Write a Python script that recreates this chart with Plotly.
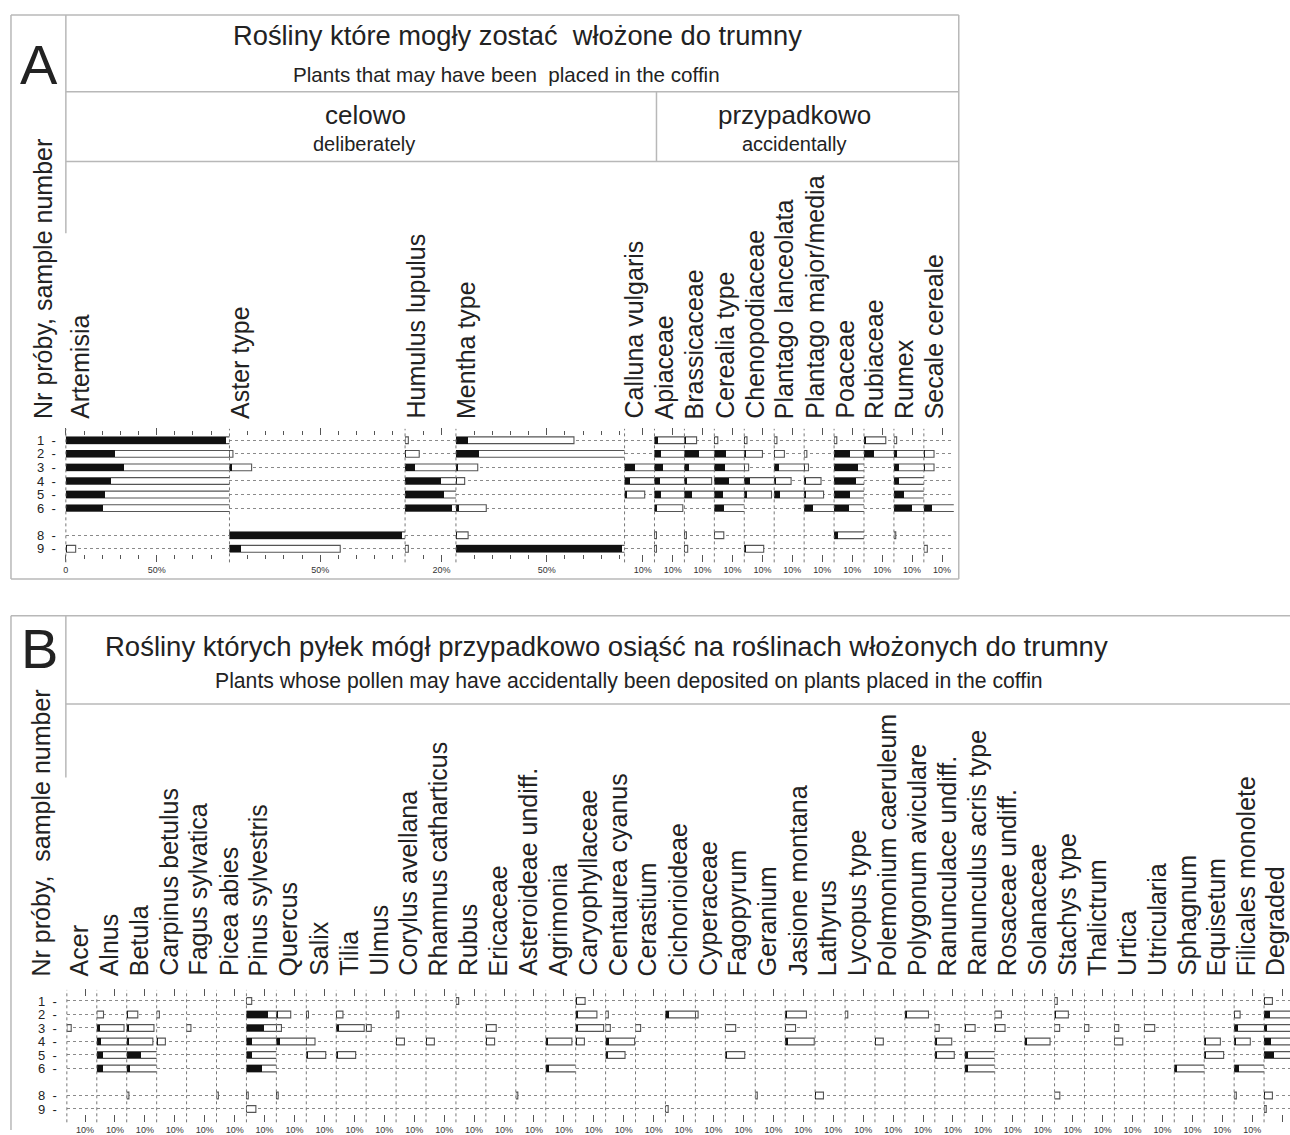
import plotly.graph_objects as go

W, H = 1290, 1135
FONT = "Liberation Sans, Arial, sans-serif"

# ---------------- data ----------------
samples = [1, 2, 3, 4, 5, 6, 8, 9]
sample_text = ["1", "2", "3", "4", "5", "6", "8", "9"]

a_taxa = ["Artemisia", "Aster type", "Humulus lupulus", "Mentha type", "Calluna vulgaris",
          "Apiaceae", "Brassicaceae", "Cerealia type", "Chenopodiaceae", "Plantago lanceolata",
          "Plantago major/media", "Poaceae", "Rubiaceae", "Rumex", "Secale cereale"]

# pollen percentages per sample (black bars); white bars = x10 exaggeration
a_row1 = [88.0, 0, 0.18, 6.5, 0, 1.9, 0.67, 0.19, 0.15, 0.15, 0, 0.15, 1.2, 0.15, 0]
a_row2 = [27.0, 0.19, 0.78, 12.6, 0, 3.7, 8.0, 6.5, 1.0, 0.56, 0.15, 8.9, 5.6, 1.9, 0.56]
a_row3 = [32.0, 1.22, 5.3, 1.2, 5.6, 4.6, 2.4, 5.6, 0.24, 2.8, 0.24, 13.0, 0, 2.8, 0.56]
a_row4 = [24.6, 0, 19.8, 0.48, 3.2, 2.8, 1.5, 8.0, 3.3, 0.93, 0.93, 12.0, 0, 2.8, 0]
a_row5 = [21.5, 0, 21.7, 0, 1.11, 3.7, 4.3, 4.6, 1.5, 3.3, 1.07, 8.9, 0, 5.6, 0]
a_row6 = [20.4, 0, 25.7, 1.67, 0, 1.56, 0, 5.2, 0, 0, 4.8, 8.3, 0, 9.8, 4.6]
a_row8 = [0, 95.0, 0, 0.67, 0, 0.11, 0.11, 0.52, 0, 0, 0, 1.9, 0, 0.1, 0]
a_row9 = [0.54, 6.1, 0.18, 91.3, 0, 0.11, 0.18, 0, 1.07, 0, 0, 0, 0, 0, 0.19]

a_major = [[0, 50], [50], [20], [50]] + [[10]] * 11
a_major_text = [["0", "50%"], ["50%"], ["20%"], ["50%"]] + [["10%"]] * 11
a_minor = [[10, 20, 30, 40, 60, 70, 80], [10, 20, 30, 40, 60, 70, 80, 90], [10],
           [10, 20, 30, 40, 60, 70, 80, 90]] + [[]] * 11

b_taxa = ["Acer", "Alnus", "Betula", "Carpinus betulus", "Fagus sylvatica", "Picea abies",
          "Pinus sylvestris", "Quercus", "Salix", "Tilia", "Ulmus", "Corylus avellana",
          "Rhamnus catharticus", "Rubus", "Ericaceae", "Asteroideae undiff.", "Agrimonia",
          "Caryophyllaceae", "Centaurea cyanus", "Cerastium", "Cichorioideae", "Cyperaceae",
          "Fagopyrum", "Geranium", "Jasione montana", "Lathyrus", "Lycopus type",
          "Polemonium caeruleum", "Polygonum aviculare", "Ranunculace undiff.",
          "Ranunculus acris type", "Rosaceae undiff.", "Solanaceae", "Stachys type",
          "Thalictrum", "Urtica", "Utricularia", "Sphagnum", "Equisetum",
          "Filicales monolete", "Degraded"]

b_row1 = [0, 0, 0, 0, 0, 0, 0.29, 0, 0, 0,
          0, 0, 0, 0.15, 0, 0, 0, 0.52, 0, 0,
          0, 0, 0, 0, 0, 0, 0, 0, 0, 0,
          0, 0, 0, 0.15, 0, 0, 0, 0, 0, 0,
          0.46]
b_row2 = [0, 0.37, 0.61, 0.15, 0, 0, 11.7, 0.79, 0.12, 0.37,
          0, 0.15, 0, 0, 0, 0, 0, 1.17, 0.15, 0,
          1.8, 0.15, 0, 0, 1.17, 0, 0.15, 0, 1.3, 0,
          0, 0.37, 0, 0.76, 0, 0, 0, 0, 0, 0.33,
          3.3]
b_row3 = [0.24, 1.5, 1.5, 0, 0.24, 0, 9.4, 0.28, 0, 1.54,
          0.28, 0, 0, 0, 0.57, 0, 0, 1.54, 0.26, 0.28,
          0, 0, 0.57, 0, 0.57, 0, 0, 0, 0, 0.24,
          0.57, 0.57, 0, 0.28, 0.24, 0.24, 0.57, 0, 0, 2.0,
          1.8]
b_row4 = [0, 2.4, 1.44, 0.48, 0, 0, 2.8, 1.8, 0.48, 0,
          0, 0.46, 0.46, 0, 0.48, 0, 1.44, 0.48, 1.6, 0,
          0, 0, 0, 0, 1.6, 0, 0, 0.46, 0, 0.93,
          0, 0, 1.4, 0, 0, 0.46, 0, 0, 0.89, 0.89,
          3.7]
b_row5 = [0, 3.3, 8.0, 0, 0, 0, 3.3, 0, 1.07, 1.07,
          0, 0, 0, 0, 0, 0, 0, 0, 1.07, 0,
          0, 0, 1.07, 0, 0, 0, 0, 0, 0, 1.07,
          1.7, 0, 0, 0, 0, 0, 0, 0, 1.07, 0,
          5.2]
b_row6 = [0, 3.3, 1.8, 0, 0, 0, 8.3, 0, 0, 0,
          0, 0, 0, 0, 0, 0, 1.7, 0, 0, 0,
          0, 0, 0, 0, 0, 0, 0, 0, 0, 0,
          1.7, 0, 0, 0, 0, 0, 0, 1.7, 0, 2.9,
          0]
b_row8 = [0, 0, 0.12, 0, 0, 0.1, 0.1, 0.1, 0, 0,
          0, 0, 0, 0, 0, 0.11, 0, 0, 0, 0,
          0, 0, 0, 0.11, 0, 0.46, 0, 0, 0, 0,
          0, 0, 0, 0.29, 0, 0, 0, 0, 0, 0.12,
          0.46]
b_row9 = [0, 0, 0, 0, 0, 0, 0.52, 0, 0, 0,
          0, 0, 0, 0, 0, 0, 0, 0, 0, 0,
          0.15, 0, 0, 0, 0, 0, 0, 0, 0, 0,
          0, 0, 0, 0, 0, 0, 0, 0, 0, 0,
          0.12]

EXAG = 10

# ---------------- layout geometry (pixels) ----------------
PX_PER_PCT = 1.82
a_col_px = [164, 176, 51, 169] + [30] * 11
A_X0 = 63
a_label_off = [14] + [10] * 14
b_col_px = [30] * 40 + [26]
B_X0 = 64
b_label_off = [12] * 40 + [11]

A_TOP, A_BOT = 436, 555
A_RANGE = [9.39, 0.68]
B_TOP, B_BOT = 1001, 1119
B_RANGE = [9.38, 0.70]


def px(x):
    return x / W


def py(y):
    return 1 - y / H


a_rows = [a_row1, a_row2, a_row3, a_row4, a_row5, a_row6, a_row8, a_row9]
b_rows = [b_row1, b_row2, b_row3, b_row4, b_row5, b_row6, b_row8, b_row9]

fig = go.Figure()
layout_axes = {}
shapes = []
annotations = []

LINE = "#555555"
GRID = "#8a8a8a"
BOX = "#b8b8b8"
LABEL_SIZE = 25


def add_panel(taxa, rows, col_px, x0, label_off, ax_start, yname, ytop, ybot, yrange,
              majors, major_texts, minors, label_bottom):
    pos = x0
    for k, name in enumerate(taxa):
        idx = ax_start + k
        axname = "x" if idx == 1 else f"x{idx}"
        lname = "xaxis" if idx == 1 else f"xaxis{idx}"
        vals = [r[k] for r in rows]
        w = col_px[k]
        rng = w / PX_PER_PCT
        fig.add_trace(go.Bar(
            y=samples, x=[v * EXAG if v > 0 else None for v in vals], orientation="h",
            width=0.5, xaxis=axname, yaxis=yname,
            marker=dict(color="white", line=dict(color=LINE, width=1.1)),
            hoverinfo="skip", showlegend=False))
        fig.add_trace(go.Bar(
            y=samples, x=[v if v > 0 else None for v in vals], orientation="h",
            width=0.5, xaxis=axname, yaxis=yname,
            marker=dict(color="#111111", line=dict(width=0)),
            hoverinfo="skip", showlegend=False))
        cfg = dict(domain=[px(pos), min(px(pos + w), 1.0)], range=[0, rng], anchor=yname,
                   showgrid=False, zeroline=False, showline=False, fixedrange=True,
                   tickmode="array", tickvals=majors[k], ticktext=major_texts[k],
                   ticks="outside", ticklen=7, tickwidth=1, tickcolor=LINE, mirror="ticks",
                   tickfont=dict(size=9, color="#333", family=FONT))
        if minors[k]:
            cfg["minor"] = dict(tickmode="array", tickvals=minors[k], ticks="outside",
                                ticklen=4, tickwidth=1, tickcolor=LINE, showgrid=False)
        layout_axes[lname] = cfg
        # column separator
        yref = "y domain" if yname == "y" else f"{yname} domain"
        shapes.append(dict(type="line", xref=f"{axname} domain", yref=yref,
                           x0=0, x1=0, y0=-0.07, y1=1.06,
                           line=dict(color="#777", width=1, dash="dot")))
        # taxon label
        annotations.append(dict(text=name, textangle=-90, xref="paper", yref="paper",
                                x=px(pos + label_off[k]), y=py(label_bottom),
                                xanchor="center", yanchor="bottom", showarrow=False,
                                font=dict(size=LABEL_SIZE, color="#222", family=FONT)))
        pos += w
    ylname = "yaxis" if yname == "y" else f"yaxis{yname[1:]}"
    layout_axes[ylname] = dict(
        domain=[py(ybot), py(ytop)], range=yrange, anchor="x" if ax_start == 1 else f"x{ax_start}",
        tickmode="array", tickvals=samples, ticktext=[f"{s}\u00a0\u00a0-" for s in sample_text],
        ticks="", showline=False, zeroline=False, fixedrange=True,
        showgrid=True, gridcolor=GRID, griddash="dot", gridwidth=1,
        tickfont=dict(size=13, color="#222", family=FONT), ticklabelstandoff=9)


add_panel(a_taxa, a_rows, a_col_px, A_X0, a_label_off, 1, "y", A_TOP, A_BOT, A_RANGE,
          a_major, a_major_text, a_minor, 421)
n_a = len(a_taxa)
add_panel(b_taxa, b_rows, b_col_px, B_X0, b_label_off, n_a + 1, "y2", B_TOP, B_BOT, B_RANGE,
          [[10]] * len(b_taxa), [["10%"]] * len(b_taxa), [[]] * len(b_taxa), 982)


def hline(y, xa, xb, color=BOX, width=1.5):
    shapes.append(dict(type="line", xref="paper", yref="paper", x0=px(xa), x1=px(xb),
                       y0=py(y), y1=py(y), line=dict(color=color, width=width)))


def vline(x, ya, yb, color=BOX, width=1.5):
    shapes.append(dict(type="line", xref="paper", yref="paper", x0=px(x), x1=px(x),
                       y0=py(ya), y1=py(yb), line=dict(color=color, width=width)))


# panel A frame
hline(12, 8, 958)
hline(580, 8, 958)
vline(8, 12, 580)
vline(958, 12, 580)
vline(63, 12, 232)
hline(89.5, 63, 958)
hline(159.5, 63, 958)
vline(655, 89.5, 159.5)
# panel B frame
hline(617, 8, 1290)
vline(8, 617, 1135)
vline(63, 617, 780)
hline(706, 63, 1290)


def text(t, x, y, size, angle=0, xanchor="center", yanchor="middle"):
    annotations.append(dict(text=t, x=px(x), y=py(y), xref="paper", yref="paper",
                            textangle=angle, xanchor=xanchor, yanchor=yanchor,
                            showarrow=False, font=dict(size=size, color="#222", family=FONT)))


text("A", 36, 62, 56)
text("Rośliny które mogły zostać\u00a0 włożone do trumny", 516, 33, 27.3)
text("Plants that may have been\u00a0 placed in the coffin", 505, 72, 20.6)
text("celowo", 363, 113, 26)
text("deliberately", 362, 142, 20)
text("przypadkowo", 793, 113, 26)
text("accidentally", 793, 142, 20)
text("Nr próby, sample number", 40, 421, LABEL_SIZE, angle=-90, yanchor="bottom")

text("B", 37, 650, 56)
text("Rośliny których pyłek mógł przypadkowo osiąść na roślinach włożonych do trumny", 605, 648, 27.5)
text("Plants whose pollen may have accidentally been deposited on plants placed in the coffin", 627, 683, 21.2)
text("Nr próby,\u00a0 sample number", 38, 982, LABEL_SIZE, angle=-90, yanchor="bottom")

fig.update_layout(
    width=W, height=H, margin=dict(l=0, r=0, t=0, b=0),
    paper_bgcolor="white", plot_bgcolor="white",
    barmode="overlay", bargap=0, showlegend=False,
    font=dict(family=FONT, color="#222"),
    shapes=shapes, annotations=annotations,
    **layout_axes)

fig.write_html("out.html", config={"displayModeBar": False, "staticPlot": True},
               post_script="document.body.style.margin='0';document.body.style.overflow='hidden';")
